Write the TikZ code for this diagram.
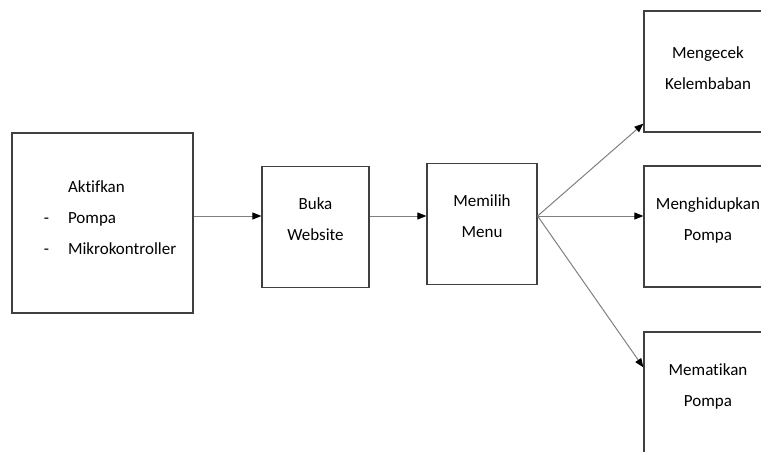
\documentclass[tikz,border=0pt]{standalone}
\usepackage{fontspec}
\setmainfont{Carlito}[Ligatures=NoCommon]
\usetikzlibrary{arrows.meta}

\begin{document}
\begin{tikzpicture}[x=1pt,y=-1pt,
    kotak/.style={draw=black!75,line width=1.2pt,inner sep=0pt,minimum height=121pt,
      align=center,font=\fontsize{17}{31}\selectfont,text depth=15pt},
    panah/.style={draw=black!50,line width=1pt,-{Triangle[length=9pt,width=7pt,color=black]}}]
  \clip (0,0) rectangle (761,452); % page edge cuts the right boxes
  \node[kotak,minimum width=181pt,minimum height=180pt,text depth=0pt] (aktif) at (102.5,223)
    {\raisebox{53pt}{\begin{tabular}{@{\hspace{15pt}}l@{\hspace{19pt}}l@{}}
      & Aktifkan\\ - & Pompa\\ - & Mikrokontroller\end{tabular}}};
  \node[kotak,minimum width=107pt] (buka) at (315.5,227) {Buka\\Website};
  \node[kotak,minimum width=110pt] (menu) at (482,224) {Memilih\\Menu};
  \node[kotak,minimum width=128pt,text depth=6pt] (cek) at (708,71.5) {Mengecek\\Kelembaban};
  \node[kotak,minimum width=128pt] (hidup) at (708,226.5) {Menghidupkan\\Pompa};
  \node[kotak,minimum width=128pt] (mati) at (708,392.5) {Mematikan\\Pompa};
  \coordinate (cabang) at ([yshift=8pt]menu.east); % all arrows leave here

  \draw[panah] (aktif.east |- cabang) -- (buka.west |- cabang);
  \draw[panah] (buka.east |- cabang) -- (menu.west |- cabang);
  \draw[panah] (cabang) -- ([yshift=9pt]cek.south west);
  \draw[panah] (cabang) -- (hidup.west |- cabang);
  \draw[panah] (cabang) -- ([yshift=-36pt]mati.north west);
\end{tikzpicture}
\end{document}
